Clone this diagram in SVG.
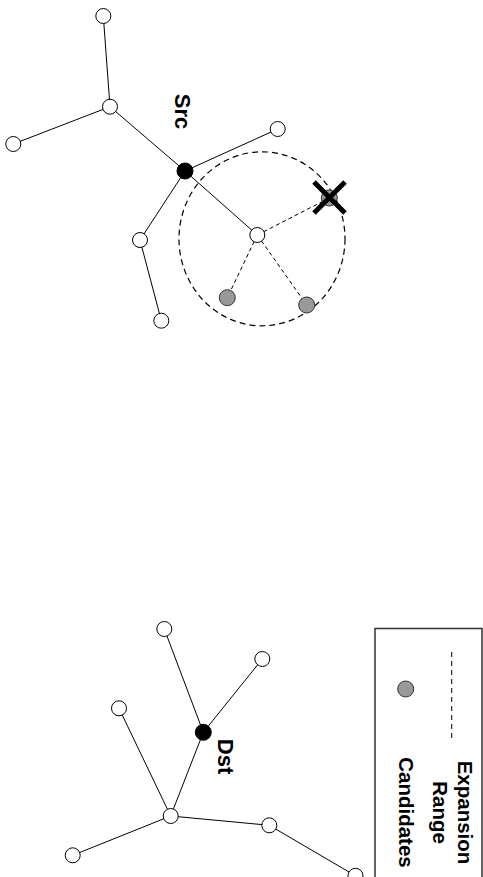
<svg xmlns="http://www.w3.org/2000/svg" width="483" height="877" viewBox="0 0 483 877">
  <style>
    .edge { stroke: #000; stroke-width: 1; fill: none; }
    .probe { stroke: #000; stroke-width: 1; stroke-dasharray: 4 3; fill: none; }
    .range { stroke: #000; stroke-width: 1.2; stroke-dasharray: 6 4; fill: none; }
    .node { fill: #fff; stroke: #000; stroke-width: 1; }
    .endpoint { fill: #000; stroke: #000; stroke-width: 1; }
    .cand { fill: #999; stroke: #333; stroke-width: 1; }
    .label { font-family: "Liberation Sans", Arial, sans-serif; font-weight: bold; font-size: 22px; fill: #000; }
    .legend-text { font-family: "Liberation Sans", Arial, sans-serif; font-weight: bold; font-size: 20.5px; fill: #000; text-anchor: middle; }
  </style>
  <rect width="483" height="877" fill="#fff"/>

  <!-- connectors -->
  <g id="connectors">
    <!-- source tree -->
    <line class="edge" x1="103.3" y1="16" x2="110" y2="106.7"/>
    <line class="edge" x1="110" y1="106.7" x2="13.3" y2="144"/>
    <line class="edge" x1="110" y1="106.7" x2="185" y2="171"/>
    <line class="edge" x1="185" y1="171" x2="277.7" y2="129"/>
    <line class="edge" x1="185" y1="171" x2="140" y2="240"/>
    <line class="edge" x1="140" y1="240" x2="161.3" y2="320.7"/>
    <line class="edge" x1="185" y1="171" x2="257.3" y2="235"/>
    <!-- expansion probes -->
    <line class="probe" x1="257.3" y1="235" x2="329.3" y2="198"/>
    <line class="probe" x1="257.3" y1="235" x2="227.3" y2="297.7"/>
    <line class="probe" x1="257.3" y1="235" x2="306.7" y2="305"/>
    <!-- destination tree -->
    <line class="edge" x1="164.3" y1="629" x2="203.3" y2="732.3"/>
    <line class="edge" x1="262.3" y1="659" x2="203.3" y2="732.3"/>
    <line class="edge" x1="203.3" y1="732.3" x2="170.7" y2="816"/>
    <line class="edge" x1="119" y1="708.3" x2="170.7" y2="816"/>
    <line class="edge" x1="170.7" y1="816" x2="269.3" y2="825.3"/>
    <line class="edge" x1="170.7" y1="816" x2="72.7" y2="855.3"/>
    <line class="edge" x1="269.3" y1="825.3" x2="355.5" y2="875.8"/>
  </g>

  <!-- expansion range -->
  <ellipse id="expansion-range" class="range" cx="262" cy="238.8" rx="83" ry="87"/>

  <!-- source side nodes -->
  <g id="n-a"><circle class="node" cx="103.3" cy="16" r="7.5"/></g>
  <g id="n-b"><circle class="node" cx="110" cy="106.7" r="7.5"/></g>
  <g id="n-c"><circle class="node" cx="13.3" cy="144" r="7.5"/></g>
  <g id="n-d"><circle class="node" cx="277.7" cy="129" r="7.5"/></g>
  <g id="n-e"><circle class="node" cx="140" cy="240" r="7.5"/></g>
  <g id="n-f"><circle class="node" cx="161.3" cy="320.7" r="7.5"/></g>
  <g id="n-g"><circle class="node" cx="257.3" cy="235" r="7.5"/></g>
  <g id="src">
    <circle class="endpoint" cx="185" cy="171" r="8"/>
    <text class="label" text-anchor="middle" transform="translate(175,111.5) rotate(90)">Src</text>
  </g>
  <g id="cand-rejected">
    <circle class="cand" cx="329.3" cy="198" r="8"/>
    <path d="M314,182 L345,213 M345,182 L314,213" stroke="#000" stroke-width="5" fill="none"/>
  </g>
  <g id="cand-1"><circle class="cand" cx="227.3" cy="297.7" r="8"/></g>
  <g id="cand-2"><circle class="cand" cx="306.7" cy="305" r="8"/></g>

  <!-- destination side nodes -->
  <g id="m-a"><circle class="node" cx="164.3" cy="629" r="7.5"/></g>
  <g id="m-b"><circle class="node" cx="262.3" cy="659" r="7.5"/></g>
  <g id="m-c"><circle class="node" cx="119" cy="708.3" r="7.5"/></g>
  <g id="m-hub"><circle class="node" cx="170.7" cy="816" r="7.5"/></g>
  <g id="m-d"><circle class="node" cx="269.3" cy="825.3" r="7.5"/></g>
  <g id="m-e"><circle class="node" cx="72.7" cy="855.3" r="7.5"/></g>
  <g id="m-f"><circle class="node" cx="355.5" cy="875.8" r="7.5"/></g>
  <g id="dst">
    <circle class="endpoint" cx="203.3" cy="732.3" r="8"/>
    <text class="label" text-anchor="middle" transform="translate(218,756.5) rotate(90)">Dst</text>
  </g>

  <!-- legend -->
  <g id="legend">
    <rect x="375" y="628.5" width="107" height="270" fill="none" stroke="#333" stroke-width="1.5"/>
    <line x1="451.7" y1="652" x2="451.7" y2="740" stroke="#000" stroke-width="1" stroke-dasharray="5 4"/>
    <text class="legend-text" transform="translate(457.5,812.5) rotate(90)">Expansion</text>
    <text class="legend-text" transform="translate(432.5,812.5) rotate(90)">Range</text>
    <circle class="cand" cx="405.7" cy="689" r="8"/>
    <text class="legend-text" transform="translate(398.5,812.5) rotate(90)">Candidates</text>
  </g>
</svg>
